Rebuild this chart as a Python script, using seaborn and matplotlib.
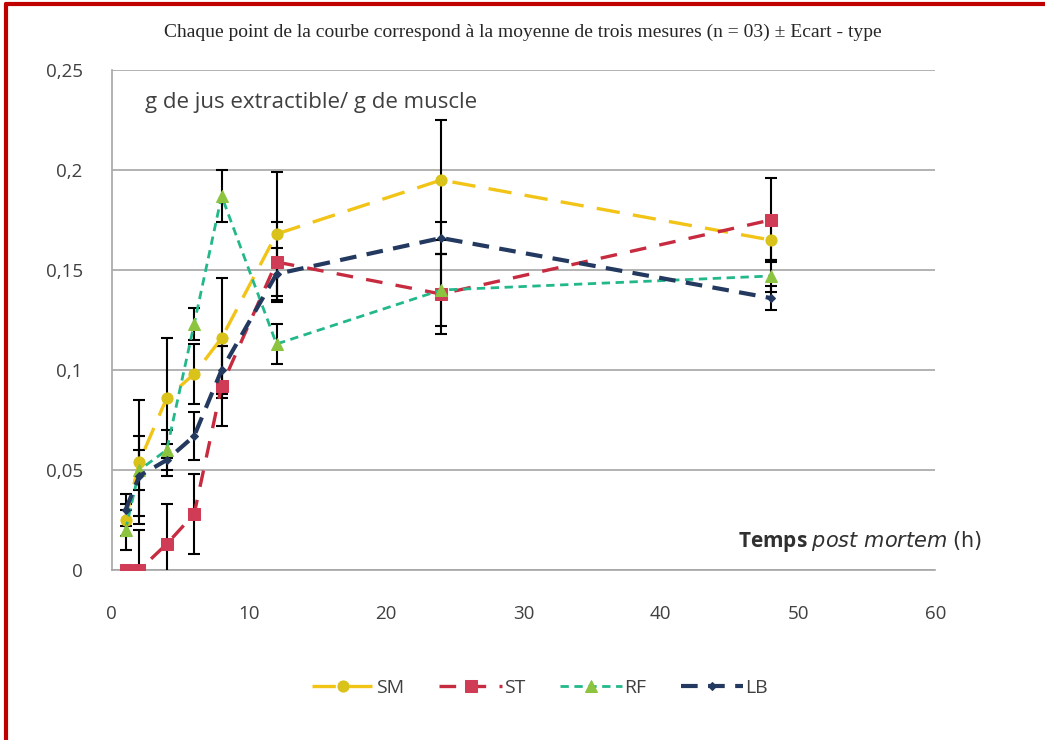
import numpy as np
import pandas as pd
import matplotlib
matplotlib.use("Agg")
import matplotlib.pyplot as plt
import seaborn as sns

# Data
temps = [1, 2, 4, 6, 8, 12, 24, 48]
sm = [0.025, 0.054, 0.086, 0.098, 0.116, 0.168, 0.195, 0.165]
st = [0.0, 0.0, 0.013, 0.028, 0.092, 0.154, 0.138, 0.175]
rf = [0.020, 0.050, 0.060, 0.123, 0.187, 0.113, 0.140, 0.147]
lb = [0.030, 0.047, 0.055, 0.067, 0.100, 0.148, 0.166, 0.136]

sm_err = [0.008, 0.031, 0.030, 0.015, 0.030, 0.031, 0.030, 0.010]
st_err = [0.0, 0.020, 0.020, 0.020, 0.020, 0.020, 0.020, 0.021]
rf_err = [0.010, 0.010, 0.010, 0.008, 0.013, 0.010, 0.018, 0.008]
lb_err = [0.008, 0.020, 0.008, 0.012, 0.012, 0.013, 0.008, 0.006]

series = ["SM", "ST", "RF", "LB"]
values = [sm, st, rf, lb]
errors = [sm_err, st_err, rf_err, lb_err]

sns.set_style("white")
plt.rcParams['font.family'] = ['Open Sans', 'DejaVu Sans']

styles = {
    "SM": dict(color="#f2c417", marker="o", mfc="#d9c21a", ls=(0, (7, 4)), lw=2.4, ms=8),
    "ST": dict(color="#c62b40", marker="s", mfc="#d03c55", ls=(0, (5, 4)), lw=2.4, ms=8),
    "RF": dict(color="#22b88a", marker="^", mfc="#8cc43f", ls=(0, (3, 2)), lw=2.0, ms=8),
    "LB": dict(color="#23395f", marker="D", mfc="#23395f", ls=(0, (4, 2.5)), lw=3.0, ms=4),
}

fig = plt.figure(figsize=(10.45, 7.4), dpi=100)
ax = fig.add_axes([0.107, 0.2297, 0.788, 0.6757])

for name, vals, errs in zip(series, values, errors):
    df = pd.DataFrame({"t": temps, "v": vals})
    s = styles[name]
    ax.errorbar(temps, vals, yerr=errs, fmt="none", ecolor="black",
                elinewidth=1.5, capsize=4, capthick=1.5, zorder=3)
    sns.lineplot(data=df, x="t", y="v", ax=ax, color=s["color"],
                 linestyle=s["ls"], linewidth=s["lw"], marker=s["marker"],
                 markersize=s["ms"], markerfacecolor=s["mfc"],
                 markeredgecolor=s["mfc"], label=name, zorder=4)

ax.set_xlim(0, 60)
ax.set_ylim(0, 0.25)
ax.set_xticks([0, 10, 20, 30, 40, 50, 60])
ax.set_yticks([0, 0.05, 0.1, 0.15, 0.2, 0.25])
ax.set_yticklabels(["0", "0,05", "0,1", "0,15", "0,2", "0,25"])
ax.set_xlabel("")
ax.set_ylabel("")
ax.yaxis.grid(True, color="#a6a6a6", lw=1.2)
ax.set_axisbelow(True)
for side in ["top", "right"]:
    ax.spines[side].set_visible(False)
for side in ["left", "bottom"]:
    ax.spines[side].set_color("#a6a6a6")
    ax.spines[side].set_linewidth(1.2)
ax.tick_params(axis="x", direction="out", length=5, color="#a6a6a6",
               labelsize=13.5, labelcolor="#404040", pad=20)
ax.tick_params(axis="y", length=0, labelsize=13.5, labelcolor="#404040", pad=21)

ax.text(0.04, 0.935, "g de jus extractible/ g de muscle", transform=ax.transAxes,
        fontsize=16, color="#404040", va="center", ha="left")
ax.text(0.76, 0.058, "Temps $\\bf{\\it{post\\ mortem}}$ $\\mathrm{(h)}$", transform=ax.transAxes,
        fontsize=15, color="#303030", va="center", ha="left", fontweight="bold")

handles, labels = ax.get_legend_handles_labels()
ax.legend(handles, labels, loc="center", bbox_to_anchor=(0.52, -0.235), ncol=4,
          frameon=False, fontsize=14, handlelength=3.2, columnspacing=1.8,
          handletextpad=0.1, labelcolor="#404040")

fig.text(0.5, 0.956, "Chaque point de la courbe correspond à la moyenne de trois mesures (n = 03) ± Ecart - type",
         ha="center", va="center", fontsize=14, family="Liberation Serif")

# red frame on top and left edges
fig.add_artist(plt.Line2D([0.006, 1.0], [0.994, 0.994], color="#c00000", lw=3))
fig.add_artist(plt.Line2D([0.006, 0.006], [0.0, 0.994], color="#c00000", lw=3))

fig.savefig("out.png", dpi=100)
